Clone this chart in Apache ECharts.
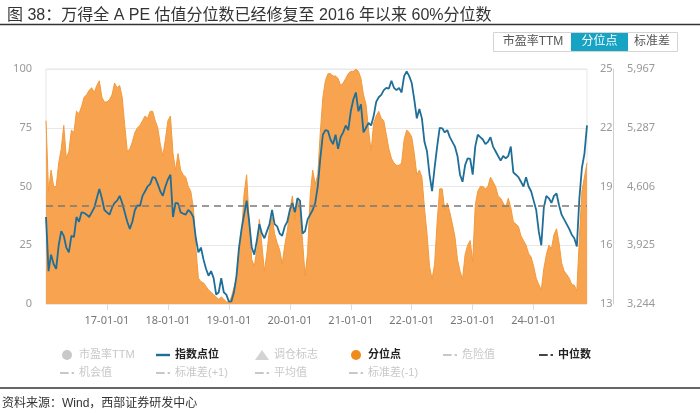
<!DOCTYPE html>
<html><head><meta charset="utf-8">
<script src="https://cdn.jsdelivr.net/npm/echarts@6/dist/echarts.min.js"></script>
<style>html,body{margin:0;padding:0;background:#fff}#c{width:700px;height:414px}</style>
</head><body><div id="c"></div>
<script>
// Semi-monthly sample dates, 2016-01-01 .. 2024-11-15
const endDate = '2024-11-15';
const dates = [];
for (let y = 2016; y <= 2024; y++) {
  for (let m = 1; m <= 12; m++) {
    for (const d of [1, 15]) {
      const s = y + '-' + String(m).padStart(2, '0') + '-' + String(d).padStart(2, '0');
      if (s <= endDate) dates.push(s);
    }
  }
}

// 分位点 (%)
const percentile = [
  78, 48, 57, 50, 50, 60, 66, 76, 62, 65,
  74, 73, 82, 81, 84, 88, 89, 91, 92, 90,
  93, 95, 88, 86, 86, 87, 89, 94, 92, 93,
  88, 76, 65, 66, 69, 73, 75, 76, 78, 80,
  79, 82, 82, 78, 75, 68, 63, 70, 78, 80,
  64, 57, 64, 57, 55,
  54, 50, 48, 41, 24, 11, 9.5, 9, 7.5, 6,
  5, 4, 3, 2, 3, 2, 1, 0.5, 3, 7,
  11, 24, 30, 47, 55, 35, 19, 16, 23, 36,
  25, 14, 22, 32, 37, 30, 26, 23, 17, 25,
  31, 40, 46, 36, 45, 40, 27, 12, 22, 46,
  57, 51, 55, 73, 88, 95, 98, 98, 97, 97,
  96, 93, 94, 96, 98, 99, 99, 100, 99, 96,
  89, 85, 74, 65, 77, 80, 82, 79, 78, 72,
  66, 62, 60, 59, 59, 60, 70, 74, 73, 71,
  64, 55, 57, 54, 41, 30, 16, 10.5, 17, 35,
  49, 49, 40, 43, 39,
  34,
  28.6, 19, 14, 10.5, 21, 25, 27, 18, 42, 48,
  50, 50, 49, 50, 54, 52, 50, 46, 45, 43,
  41, 45, 41, 35, 34, 33, 29, 27, 25, 21.5,
  20, 16, 11, 8.3, 6, 15, 21, 25, 23.5, 29.5,
  32, 26, 17.5, 14, 12.6, 11, 8.3, 8, 5.5, 28,
  48, 54, 60
];

// 指数点位 (Wind全A)
const indexLevel = [
  4252, 3625, 3816, 3707, 3652, 3925, 4088, 4034, 3898, 3843,
  4034, 4020, 4252, 4197, 4306, 4300, 4279, 4252, 4306, 4360,
  4469, 4578, 4469, 4333, 4306, 4279, 4360, 4415, 4442, 4497,
  4415, 4306, 4197, 4115, 4197, 4333, 4388, 4380, 4497, 4551,
  4606, 4633, 4714, 4705, 4633, 4551, 4497, 4606, 4687, 4742,
  4252, 4415, 4410, 4306, 4292,
  4279, 4333, 4306, 4252, 4006, 3843, 3898, 3761, 3652, 3571,
  3625, 3544, 3353, 3380, 3544, 3380, 3353, 3271, 3275, 3380,
  3571, 3898, 4115, 4279, 4442, 4197, 3898, 3816, 3979, 4170,
  4061, 4006, 4088, 4170, 4333, 4170, 4143, 4061, 4034, 4143,
  4197, 4333, 4415, 4306, 4469, 4442, 4061, 4088, 4224, 4279,
  4333, 4415, 4606, 4932, 5205, 5259, 5250, 5150, 5096, 5205,
  5041, 5177, 5232, 5313, 5259, 5477, 5613, 5695, 5477, 5559,
  5232, 5286, 5341, 5313, 5422, 5586, 5640, 5667, 5722, 5749,
  5740, 5831, 5749, 5722, 5749, 5695, 5885, 5940, 5885, 5804,
  5613, 5395, 5504, 5395, 5123, 5014, 4742, 4551, 4823, 5068,
  5286, 5280, 5232, 5259, 5177,
  5123,
  5068, 4959, 4742, 4660, 4851, 4932, 4925, 4742, 5068, 5205,
  5177, 5150, 5096, 5123, 5177, 5068, 5014, 4959, 4905, 4959,
  4932, 4959, 5068, 4769, 4742, 4714, 4660, 4606, 4714, 4606,
  4551, 4442, 4333, 4088, 3925, 4360, 4497, 4469, 4415, 4497,
  4524, 4388, 4279, 4224, 4170, 4115, 4047, 4006, 3911, 4469,
  4823, 4987, 5313
];

const medianPE = 18.0;
const peTicks = ['13', '16', '19', '22', '25'];
const indexTicks = ['3,244', '3,925', '4,606', '5,287', '5,967'];
const indexMin = 3244, indexMax = 5967;

const CJK = '"Liberation Sans","Noto Sans CJK SC",sans-serif';
const AX = '"Noto Sans","Noto Sans CJK SC",sans-serif';

const dashDot = 'path://M0,0h9v2H0z M12,0h2.5v2H12z';
const lineIcon = 'path://M0,0h14v2.4H0z';

const sel = {
  '市盈率TTM': false, '调仓标志': false, '危险值': false, '机会值': false,
  '标准差(+1)': false, '平均值': false, '标准差(-1)': false
};
function mkLegend(left, items) {
  return {
    orient: 'vertical', left: left, top: 343,
    itemWidth: 14, itemHeight: 10, itemGap: 4,
    textStyle: { fontSize: 11, lineHeight: 14, color: '#333', fontFamily: CJK },
    inactiveColor: '#c8c8c8', inactiveBorderColor: '#c8c8c8',
    selected: sel, data: items
  };
}
const bold = { fontWeight: 'bold', color: '#222' };

const isYearStart = (idx, val) => idx > 0 && /-01-01$/.test(val);

const chart = echarts.init(document.getElementById('c'), null, { renderer: 'canvas' });
chart.setOption({
  animation: false,
  backgroundColor: '#fff',
  title: {
    text: '图 38：万得全 A PE 估值分位数已经修复至 2016 年以来 60%分位数',
    left: 2, top: 3,
    textStyle: { fontSize: 16, fontWeight: 'normal', color: '#333', fontFamily: CJK }
  },
  grid: { left: 46, right: 113, top: 69, bottom: 110, show: true, borderColor: '#e6e6e6', borderWidth: 1 },
  legend: [
    mkLegend(55, [{ name: '市盈率TTM', icon: 'circle' }, { name: '机会值', icon: dashDot }]),
    mkLegend(151, [{ name: '指数点位', icon: lineIcon, textStyle: bold }, { name: '标准差(+1)', icon: dashDot }]),
    mkLegend(250, [{ name: '调仓标志', icon: 'triangle' }, { name: '平均值', icon: dashDot }]),
    mkLegend(344, [{ name: '分位点', icon: 'circle', textStyle: bold }, { name: '标准差(-1)', icon: dashDot }]),
    mkLegend(438, [{ name: '危险值', icon: dashDot }]),
    mkLegend(534, [{ name: '中位数', icon: dashDot, textStyle: bold }])
  ],
  xAxis: {
    type: 'category', data: dates, boundaryGap: false,
    axisLine: { show: false },
    axisTick: { show: true, interval: isYearStart, length: 6, lineStyle: { color: '#dcdcdc' } },
    axisLabel: { interval: isYearStart, formatter: v => v.slice(2), color: '#777', fontSize: 11, margin: 11, fontFamily: AX },
    splitLine: { show: false }
  },
  yAxis: [
    { type: 'value', min: 0, max: 100, interval: 25, position: 'left',
      axisLine: { show: false }, axisTick: { show: false },
      axisLabel: { color: '#999', fontSize: 11, margin: 14, fontFamily: AX },
      splitLine: { lineStyle: { color: '#e8e8e8' } } },
    { type: 'value', min: 13, max: 25, interval: 3, position: 'right',
      axisLine: { show: false }, axisTick: { show: false },
      axisLabel: { color: '#999', fontSize: 11, margin: 13, fontFamily: AX,
        formatter: v => peTicks[Math.round((v - 13) / 3)] || '' },
      splitLine: { show: false } },
    { type: 'value', min: indexMin, max: indexMax, interval: (indexMax - indexMin) / 4, position: 'right', offset: 26,
      axisLine: { show: true, lineStyle: { color: '#cfcfcf' } }, axisTick: { show: false },
      axisLabel: { color: '#999', fontSize: 11, margin: 14, fontFamily: AX,
        formatter: v => indexTicks[Math.round((v - indexMin) / ((indexMax - indexMin) / 4))] || '' },
      splitLine: { show: false } }
  ],
  series: [
    { name: '市盈率TTM', type: 'line', yAxisIndex: 1, data: [], itemStyle: { color: '#999' } },
    { name: '分位点', type: 'line', yAxisIndex: 0, data: percentile, symbol: 'none', z: 2,
      itemStyle: { color: '#f08a1c' },
      lineStyle: { color: '#f29a3c', width: 1 },
      areaStyle: { color: '#f7a34f', opacity: 1 } },
    { name: '指数点位', type: 'line', yAxisIndex: 2, data: indexLevel, symbol: 'none', z: 4,
      itemStyle: { color: '#1f6e98' },
      lineStyle: { color: '#1f6e98', width: 1.8 } },
    { name: '调仓标志', type: 'scatter', yAxisIndex: 0, data: [], itemStyle: { color: '#999' } },
    { name: '危险值', type: 'line', yAxisIndex: 1, data: [], itemStyle: { color: '#999' } },
    { name: '中位数', type: 'line', yAxisIndex: 1, data: [], z: 3,
      itemStyle: { color: '#444' },
      markLine: { silent: true, symbol: 'none', label: { show: false },
        lineStyle: { color: '#7a7a7a', type: [7, 5], width: 1.5 },
        data: [{ yAxis: medianPE }] } },
    { name: '机会值', type: 'line', yAxisIndex: 1, data: [], itemStyle: { color: '#999' } },
    { name: '标准差(+1)', type: 'line', yAxisIndex: 1, data: [], itemStyle: { color: '#999' } },
    { name: '平均值', type: 'line', yAxisIndex: 1, data: [], itemStyle: { color: '#999' } },
    { name: '标准差(-1)', type: 'line', yAxisIndex: 1, data: [], itemStyle: { color: '#999' } }
  ],
  graphic: [
    { type: 'line', shape: { x1: 0, y1: 24.5, x2: 700, y2: 24.5 }, style: { stroke: '#333', lineWidth: 1.5 } },
    { type: 'rect', shape: { x: 493.5, y: 32.5, width: 184, height: 19 }, style: { fill: '#fff', stroke: '#d4d4d4', lineWidth: 1 } },
    { type: 'rect', shape: { x: 571, y: 33, width: 57, height: 18 }, style: { fill: '#16a3c4' } },
    { type: 'text', x: 533, y: 42, style: { text: '市盈率TTM', fill: '#555', fontSize: 12, fontFamily: CJK, align: 'center', verticalAlign: 'middle' } },
    { type: 'text', x: 599.5, y: 42, style: { text: '分位点', fill: '#fff', fontSize: 12, fontFamily: CJK, align: 'center', verticalAlign: 'middle' } },
    { type: 'text', x: 652, y: 42, style: { text: '标准差', fill: '#555', fontSize: 12, fontFamily: CJK, align: 'center', verticalAlign: 'middle' } },
    { type: 'line', shape: { x1: 0, y1: 388, x2: 700, y2: 388 }, style: { stroke: '#333', lineWidth: 1.5 } },
    { type: 'text', x: 2, y: 404, style: { text: '资料来源：Wind，西部证券研发中心', fill: '#333', fontSize: 12, fontFamily: CJK, verticalAlign: 'middle' } }
  ]
});
</script></body></html>
